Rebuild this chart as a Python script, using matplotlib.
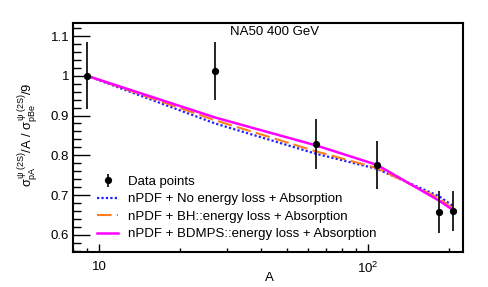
import matplotlib
matplotlib.use("Agg")
import matplotlib.pyplot as plt
from matplotlib.ticker import FixedLocator, NullFormatter, MultipleLocator

plt.rcParams['font.family'] = ['Liberation Sans', 'DejaVu Sans']
plt.rcParams['mathtext.fontset'] = 'custom'
plt.rcParams['mathtext.rm'] = 'Liberation Sans'
plt.rcParams['mathtext.it'] = 'Liberation Sans'
plt.rcParams['mathtext.bf'] = 'Liberation Sans:bold'

# Data
A_data = [9, 27, 64, 108, 184, 208]
R_data = [1.0, 1.013, 0.828, 0.776, 0.657, 0.660]
R_err = [0.084, 0.073, 0.063, 0.061, 0.052, 0.050]

A_model = [9, 27, 64, 108, 184, 208]
R_noeloss = [1.0, 0.880, 0.804, 0.766, 0.697, 0.672]
R_bh = [1.0, 0.888, 0.810, 0.768, 0.692, 0.665]
R_bdmps = [1.0, 0.895, 0.825, 0.776, 0.686, 0.662]

labels = ["Data points",
          "nPDF + No energy loss + Absorption",
          "nPDF + BH::energy loss + Absorption",
          "nPDF + BDMPS::energy loss + Absorption"]

W, H = 488, 287
fig = plt.figure(figsize=(W / 100, H / 100), dpi=100)
ax = fig.add_axes([73.3 / W, 1 - 252.3 / H, (463 - 73.3) / W, (252.3 - 22.5) / H])

l1, = ax.plot(A_model, R_noeloss, color='#1f1fff', lw=1.6, linestyle=(0, (1, 1)))
l2, = ax.plot(A_model, R_bh, color='#ff7f1e', lw=1.5, linestyle=(0, (7, 2.5)))
l3, = ax.plot(A_model, R_bdmps, color='#ff00ff', lw=1.8, linestyle='-')
eb = ax.errorbar(A_data, R_data, yerr=R_err, fmt='o', color='black', ms=4.2,
                 elinewidth=1.2, capsize=0, zorder=5)

ax.set_xscale('log')
ax.set_xlim(8.0, 226)
ax.set_ylim(0.556, 1.134)

ax.xaxis.set_major_locator(FixedLocator([10, 100]))
ax.set_xticklabels(['10', r'$10^{2}$'])
ax.xaxis.set_minor_locator(FixedLocator([8, 9, 20, 30, 40, 50, 60, 70, 80, 90, 200]))
ax.xaxis.set_minor_formatter(NullFormatter())
ax.yaxis.set_major_locator(FixedLocator([0.6, 0.7, 0.8, 0.9, 1.0, 1.1]))
ax.set_yticklabels(['0.6', '0.7', '0.8', '0.9', '1', '1.1'])
ax.yaxis.set_minor_locator(MultipleLocator(0.02))

ax.tick_params(axis='y', which='major', direction='in', length=12, width=1, labelsize=9.5, pad=3)
ax.tick_params(axis='y', which='minor', direction='in', length=6, width=1)
ax.tick_params(axis='x', which='major', direction='in', length=5.5, width=1, labelsize=9.5, pad=6)
ax.tick_params(axis='x', which='minor', direction='in', length=3, width=1)
ax.tick_params(top=False, right=False, which='both')
for s in ax.spines.values():
    s.set_linewidth(1.5)

ax.set_xlabel('A', fontsize=9.5)
ax.xaxis.set_label_coords((269 - 73.3) / (463 - 73.3), -0.085)
ax.set_ylabel(r'$\sigma^{\psi\ (2S)}_{pA}/A\ /\ \sigma^{\psi\ (2S)}_{pBe}/9$', fontsize=9.3)
ax.yaxis.set_label_coords(-0.085, 0.51)

fig.text(275 / W, 1 - 32 / H, 'NA50 400 GeV', fontsize=9.5, ha='center', va='center')

leg = ax.legend([eb, l1, l2, l3], labels, loc='upper left',
                bbox_to_anchor=(97 / W, 1 - 175.5 / H), bbox_transform=fig.transFigure,
                frameon=False, fontsize=9.5, handlelength=1.6, handletextpad=0.75,
                labelspacing=0.4, borderpad=0, borderaxespad=0)

fig.savefig('out.png', dpi=100)
